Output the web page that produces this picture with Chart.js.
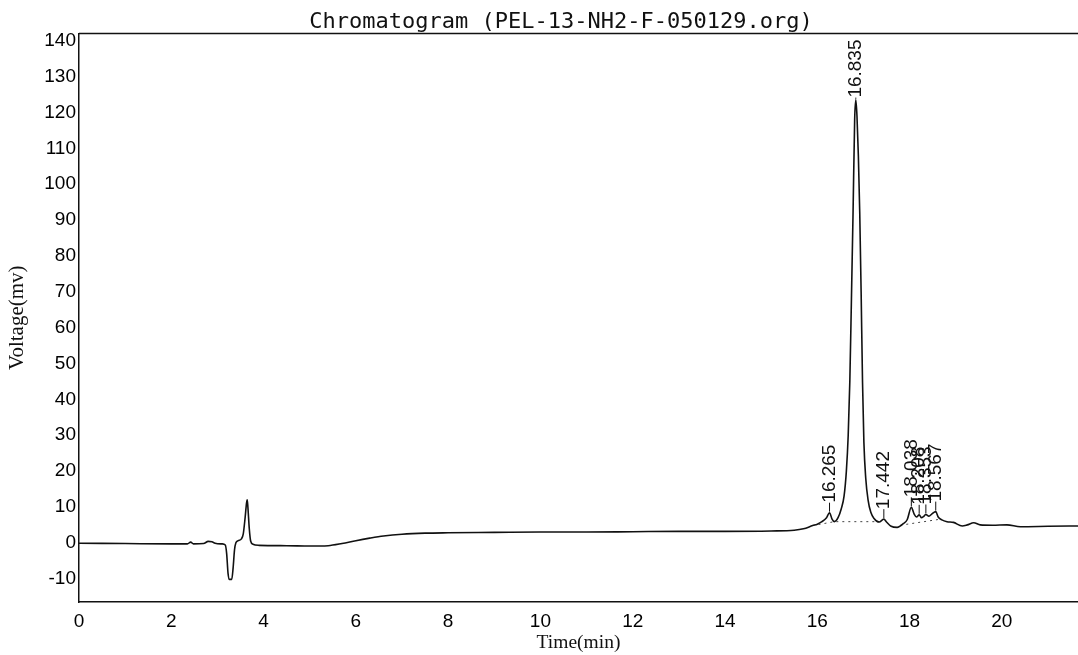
<!DOCTYPE html>
<html>
<head>
<meta charset="utf-8">
<script src="https://cdn.jsdelivr.net/npm/chart.js@4.4.1/dist/chart.umd.min.js"></script>
<style>
  html, body { margin: 0; padding: 0; background: #fff; }
  #wrap { width: 1078px; height: 655px; position: relative; }
</style>
</head>
<body>
<div id="wrap"><canvas id="chart-chromatogram"></canvas></div>
<script>
// ===================== DATA =====================

const chartTitle = 'Chromatogram (PEL-13-NH2-F-050129.org)';

const timeMin = [
    0, 1.0, 2.0, 2.35, 2.42, 2.48, 2.7, 2.8, 2.88, 2.95,
    3.1, 3.17, 3.2, 3.23, 3.26, 3.31, 3.34, 3.37, 3.4, 3.45,
    3.52, 3.56, 3.6, 3.63, 3.645, 3.66, 3.69, 3.72, 3.77, 3.9,
    4.5, 5.0, 5.4, 5.7, 6.0, 6.3, 6.6, 7.0, 7.5, 8.0,
    9.0, 10.0, 11.0, 12.0, 13.0, 14.0, 15.0, 15.5, 15.7, 15.9,
    16.0, 16.1, 16.2, 16.265, 16.32, 16.37, 16.45, 16.52, 16.58, 16.63,
    16.67, 16.705, 16.74, 16.775, 16.81, 16.835, 16.86, 16.89, 16.92, 16.95,
    16.98, 17.01, 17.05, 17.1, 17.16, 17.23, 17.34, 17.442, 17.5, 17.6,
    17.73, 17.87, 17.95, 18.038, 18.1, 18.15, 18.208, 18.26, 18.3, 18.353,
    18.42, 18.48, 18.567, 18.62, 18.7, 18.81, 18.95, 19.14, 19.25, 19.39,
    19.53, 19.8, 20.11, 20.4, 21.0, 21.65
];
const voltageMv = [
    -0.1, -0.2, -0.3, -0.3, 0.2, -0.3, -0.2, 0.4, 0.3, -0.1,
    -0.3, -0.6, -3, -8.5, -10.2, -10.2, -7, -2, 0, 0.6,
    1.1, 2.5, 7, 11, 12, 10, 4, 0.5, -0.4, -0.7,
    -0.8, -0.9, -0.8, -0.2, 0.6, 1.3, 1.9, 2.4, 2.7, 2.8,
    2.9, 3.0, 3.0, 3.1, 3.2, 3.2, 3.3, 3.5, 3.9, 4.8,
    5.2, 5.9, 7.0, 8.4, 6.6, 5.9, 7.0, 9.5, 13, 20,
    30, 45, 68, 92, 118, 123.5, 119, 108, 92, 70,
    45, 28, 18, 12, 8.5, 6.8, 5.8, 6.6, 5.8, 4.6,
    4.3, 5.4, 6.5, 9.9, 8.0, 7.2, 7.8, 7.0, 7.3, 7.9,
    7.4, 8.0, 8.7, 7.2, 6.4, 5.9, 5.7, 4.7, 5.0, 5.6,
    5.0, 4.9, 5.0, 4.5, 4.6, 4.7
];

// integration baselines (dotted)
const baseATime = [15.9, 16.37, 17.34];
const baseAMv   = [4.8, 5.9, 5.9];
const baseBTime = [17.8, 18.62];
const baseBMv   = [4.9, 6.5];

// retention time labels
const peakTimes  = [16.265, 16.835, 17.442, 18.038, 18.208, 18.353, 18.567];
const peakLabels = ['16.265', '16.835', '17.442', '18.038', '18.208', '18.353', '18.567'];

const xTickValues = [0, 2, 4, 6, 8, 10, 12, 14, 16, 18, 20];
const yTickValues = [-10, 0, 10, 20, 30, 40, 50, 60, 70, 80, 90, 100, 110, 120, 130, 140];

// ===================== PLUGINS =====================

const toPoints = (xs, ys) => xs.map((x, i) => ({ x, y: ys[i] }));

const chromPlugin = {
    id: 'chromDecor',
    afterDatasetsDraw(chart) {
        const { ctx, chartArea, scales } = chart;
        ctx.save();

        // top frame line
        ctx.strokeStyle = '#111';
        ctx.lineWidth = 1.5;
        ctx.beginPath();
        ctx.moveTo(chartArea.left, chartArea.top);
        ctx.lineTo(chartArea.right, chartArea.top);
        ctx.stroke();

        // peak labels
        ctx.font = '19px "Liberation Sans", Arial, sans-serif';
        ctx.fillStyle = '#111';
        ctx.lineWidth = 1;
        peakTimes.forEach((t, i) => {
            const idx = timeMin.indexOf(t);
            const v = idx >= 0 ? voltageMv[idx] : 0;
            const px = scales.x.getPixelForValue(t);
            const py = scales.y.getPixelForValue(v);
            const w = ctx.measureText(peakLabels[i]).width;
            let start = py - 10;
            if (start - w < chartArea.top + 6) start = chartArea.top + 6 + w;
            ctx.beginPath();
            ctx.moveTo(px, py - 1);
            ctx.lineTo(px, Math.min(py - 1, start));
            ctx.stroke();
            ctx.save();
            ctx.translate(px, start);
            ctx.rotate(-Math.PI / 2);
            ctx.textAlign = 'left';
            ctx.textBaseline = 'middle';
            ctx.fillText(peakLabels[i], 0, 0);
            ctx.restore();
        });

        // title
        ctx.font = '22px "DejaVu Sans Mono", monospace';
        ctx.textAlign = 'center';
        ctx.textBaseline = 'alphabetic';
        ctx.fillText(chartTitle, 561, 28);
        ctx.restore();
    }
};

// ===================== CHART =====================

new Chart(document.getElementById('chart-chromatogram'), {
    type: 'line',
    data: {
        datasets: [
            {
                data: toPoints(timeMin, voltageMv),
                borderColor: '#111',
                borderWidth: 1.6,
                pointRadius: 0,
                cubicInterpolationMode: 'monotone',
                fill: false
            },
            {
                data: toPoints(baseATime, baseAMv),
                borderColor: '#444',
                borderWidth: 1,
                borderDash: [2, 4],
                pointRadius: 0,
                fill: false
            },
            {
                data: toPoints(baseBTime, baseBMv),
                borderColor: '#444',
                borderWidth: 1,
                borderDash: [2, 4],
                pointRadius: 0,
                fill: false
            }
        ]
    },
    options: {
        responsive: true,
        maintainAspectRatio: false,
        animation: false,
        layout: { padding: { top: 33.5, right: 0, left: 0, bottom: 0 } },
        plugins: {
            legend: { display: false },
            tooltip: { enabled: false },
            title: { display: false }
        },
        scales: {
            x: {
                type: 'linear',
                min: 0,
                max: 21.65,
                afterBuildTicks: s => { s.ticks = xTickValues.map(v => ({ value: v })); },
                afterFit: s => { s.height = 53; },
                grid: { display: false, drawTicks: false },
                border: { display: true, color: '#111', width: 1.5 },
                ticks: {
                    color: '#000',
                    padding: 8,
                    maxRotation: 0,
                    font: { family: '"Liberation Sans", Arial, sans-serif', size: 19 }
                },
                title: {
                    display: true,
                    text: 'Time(min)',
                    color: '#111',
                    padding: { top: 0, bottom: 0 },
                    font: { family: '"Liberation Serif", "Times New Roman", serif', size: 19.5 }
                }
            },
            y: {
                min: -16.5,
                max: 142,
                afterBuildTicks: s => { s.ticks = yTickValues.map(v => ({ value: v })); },
                afterFit: s => { s.width = 79; },
                grid: { display: false, drawTicks: false },
                border: { display: true, color: '#111', width: 1.5 },
                ticks: {
                    color: '#000',
                    padding: 3,
                    font: { family: '"Liberation Sans", Arial, sans-serif', size: 19 }
                },
                title: {
                    display: true,
                    text: 'Voltage(mv)',
                    color: '#111',
                    padding: { top: 5, bottom: 0 },
                    font: { family: '"Liberation Serif", "Times New Roman", serif', size: 21 }
                }
            }
        }
    },
    plugins: [chromPlugin]
});
</script>
</body>
</html>
